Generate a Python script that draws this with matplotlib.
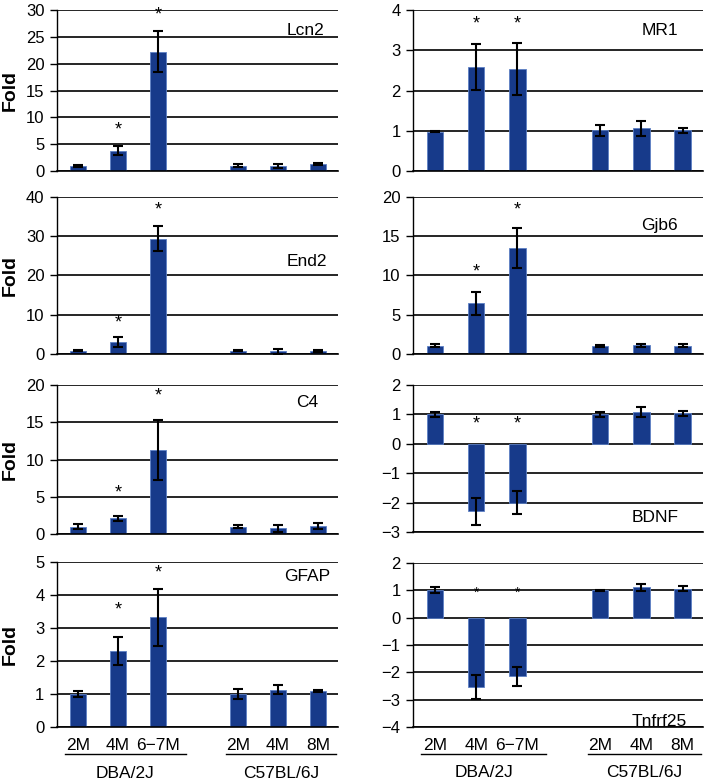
import numpy as np
import matplotlib.pyplot as plt
from matplotlib.transforms import blended_transform_factory

plt.rcParams['font.family'] = ['Liberation Sans', 'DejaVu Sans']

ages_dba = ['2M', '4M', '6\u22127M']
ages_b6 = ['2M', '4M', '8M']
strains = ['DBA/2J', 'C57BL/6J']

# fold change, DBA/2J (2M, 4M, 6-7M) then C57BL/6J (2M, 4M, 8M)
lcn2 = [1.0, 3.8, 22.2, 1.0, 0.9, 1.3]
lcn2_err = [0.2, 0.9, 3.8, 0.3, 0.4, 0.15]
mr1 = [0.98, 2.59, 2.54, 1.01, 1.06, 1.01]
mr1_err = [0.02, 0.57, 0.64, 0.14, 0.18, 0.07]
end2 = [0.85, 3.1, 29.4, 0.85, 0.67, 0.75]
end2_err = [0.2, 1.3, 3.1, 0.2, 0.6, 0.3]
gjb6 = [1.04, 6.46, 13.5, 1.04, 1.12, 1.08]
gjb6_err = [0.2, 1.48, 2.6, 0.1, 0.2, 0.15]
c4 = [0.98, 2.1, 11.3, 1.0, 0.76, 1.1]
c4_err = [0.3, 0.35, 4.05, 0.15, 0.45, 0.4]
bdnf = [1.0, -2.3, -2.0, 1.0, 1.08, 1.04]
bdnf_err = [0.08, 0.46, 0.39, 0.08, 0.18, 0.08]
gfap = [1.0, 2.31, 3.32, 1.0, 1.13, 1.08]
gfap_err = [0.1, 0.42, 0.87, 0.16, 0.14, 0.03]
tnfrf25 = [1.02, -2.52, -2.15, 1.0, 1.12, 1.06]
tnfrf25_err = [0.1, 0.44, 0.35, 0.02, 0.13, 0.09]

# significance stars: (bar index, height)
lcn2_stars = [(1, 7.7), (2, 29.0)]
mr1_stars = [(1, 3.66), (2, 3.66)]
end2_stars = [(1, 7.9), (2, 36.7)]
gjb6_stars = [(1, 10.5), (2, 18.4)]
c4_stars = [(1, 5.5), (2, 18.6)]
bdnf_stars = [(1, 0.66), (2, 0.66)]
gfap_stars = [(1, 3.54), (2, 4.67)]
tnfrf25_stars = [(1, 0.9), (2, 0.9)]

xpos = np.array([0, 1, 2, 4, 5, 6])

panels = [
    # name, values, errors, stars, ylim, ytick step, axes rect, label pos
    ('Lcn2', lcn2, lcn2_err, lcn2_stars, (0, 30), 5, [0.080, 0.7813, 0.395, 0.2059], (0.885, 0.875)),
    ('MR1', mr1, mr1_err, mr1_stars, (0, 4), 1, [0.581, 0.7813, 0.408, 0.2059], (0.85, 0.875)),
    ('End2', end2, end2_err, end2_stars, (0, 40), 10, [0.080, 0.5473, 0.395, 0.2008], (0.89, 0.59)),
    ('Gjb6', gjb6, gjb6_err, gjb6_stars, (0, 20), 5, [0.581, 0.5473, 0.408, 0.2008], (0.85, 0.82)),
    ('C4', c4, c4_err, c4_stars, (0, 20), 5, [0.080, 0.3171, 0.395, 0.1905], (0.89, 0.88)),
    ('BDNF', bdnf, bdnf_err, bdnf_stars, (-3, 2), 1, [0.581, 0.3197, 0.408, 0.1880], (0.835, 0.10)),
    ('GFAP', gfap, gfap_err, gfap_stars, (0, 5), 1, [0.080, 0.0703, 0.395, 0.2110], (0.89, 0.915)),
    ('Tnfrf25', tnfrf25, tnfrf25_err, tnfrf25_stars, (-4, 2), 1, [0.581, 0.0703, 0.408, 0.2097], (0.85, 0.035)),
]

fig = plt.figure(figsize=(7.11, 7.82), dpi=100)

for k, (name, vals, errs, stars, ylim, step, rect, lpos) in enumerate(panels):
    ax = fig.add_axes(rect)
    ax.set_axisbelow(True)
    ax.bar(xpos, vals, width=0.4, color='#173a8a', edgecolor='#5d80c4', linewidth=0.6, zorder=2)
    ax.errorbar(xpos, vals, yerr=errs, fmt='none', ecolor='black', elinewidth=1.5,
                capsize=3.5, capthick=1.5, zorder=3)
    star_size = 10 if name == 'Tnfrf25' else 13
    for i, h in stars:
        ax.text(xpos[i], h, '*', ha='center', va='center', fontsize=star_size)
    ax.set_xlim(-0.53, 6.5)
    ax.set_ylim(*ylim)
    ax.set_yticks(np.arange(ylim[0], ylim[1] + step / 2, step))
    ax.yaxis.grid(True, color='black', linewidth=1.2)
    ax.tick_params(axis='y', labelsize=12, length=5, width=1, pad=4)
    for s in ['top', 'right']:
        ax.spines[s].set_visible(False)
    ax.spines['left'].set_linewidth(1)
    ax.spines['bottom'].set_linewidth(1.2)
    ax.text(lpos[0], lpos[1], name, transform=ax.transAxes, ha='center', va='center', fontsize=12.5)
    if k % 2 == 0:
        ax.set_ylabel('Fold', fontsize=14, fontweight='bold')
        ax.yaxis.set_label_coords(-0.135, 0.5)
    if k >= 6:
        ax.set_xticks(xpos)
        ax.set_xticklabels(ages_dba + ages_b6, fontsize=12.5)
        ax.tick_params(axis='x', length=0, pad=8)
        tr = blended_transform_factory(ax.transData, ax.transAxes)
        for (a, b), label in zip([(-0.33, 2.7), (3.7, 6.45)], strains):
            ax.plot([a, b], [-0.165, -0.165], color='black', lw=1, transform=tr, clip_on=False)
            ax.text((a + b) / 2, -0.28, label, transform=tr, ha='center', va='center', fontsize=12.5)
    else:
        ax.set_xticks([])

fig.savefig('out.png', dpi=100)
